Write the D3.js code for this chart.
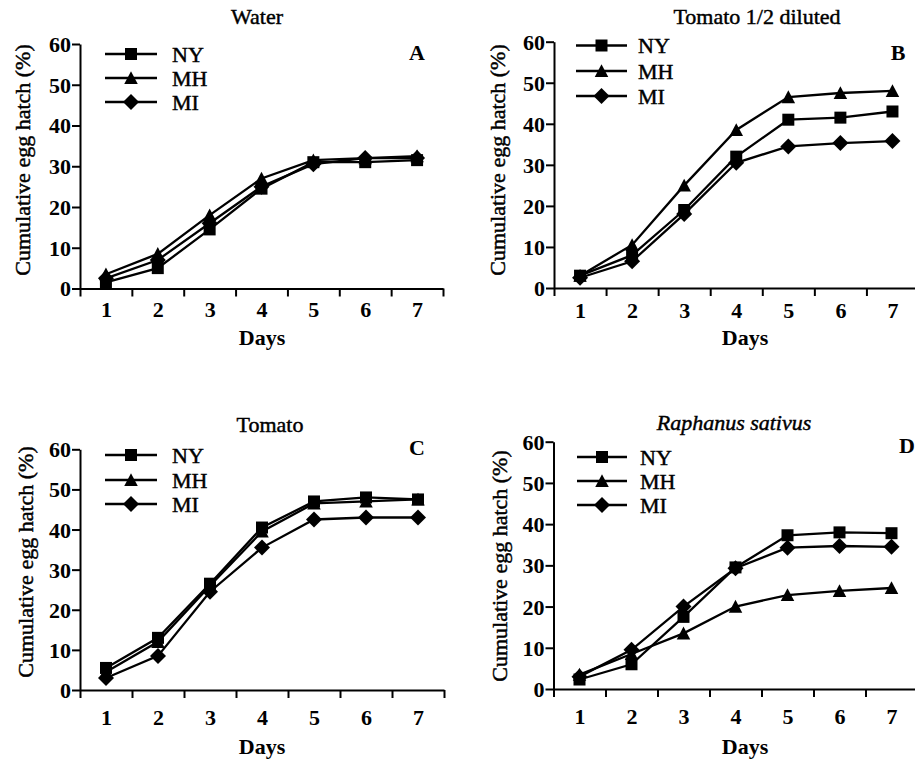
<!DOCTYPE html>
<html>
<head>
<meta charset="utf-8">
<script src="https://cdn.jsdelivr.net/npm/d3@7"></script>
<style>
  html, body { margin: 0; padding: 0; background: #fff; }
  svg { display: block; }
  text { font-family: "Liberation Serif", "Times New Roman", serif; fill: #000; }
  text.heavy { stroke: #000; stroke-width: 0.45px; }
</style>
</head>
<body>
<svg id="chart" width="915" height="759"></svg>
<script>
// ---- data ----
const days = [1, 2, 3, 4, 5, 6, 7];
const seriesNames = ["NY", "MH", "MI"];
const yTicks = [0, 10, 20, 30, 40, 50, 60];
const panelTitles = ["Water", "Tomato 1/2 diluted", "Tomato", "Raphanus sativus"];
const panelLetters = ["A", "B", "C", "D"];
const xAxisTitle = "Days";
const yAxisTitle = "Cumulative egg hatch (%)";

// Panel A: Water
const waterNY = [1.5, 5, 14.5, 24.5, 31, 31, 31.5];
const waterMH = [3.5, 8.5, 18, 27, 31.5, 32, 32.5];
const waterMI = [2.5, 7, 16, 25, 30.5, 32, 32];
// Panel B: Tomato 1/2 diluted
const dilutedNY = [3, 8, 19, 32, 41, 41.5, 43];
const dilutedMH = [3, 10.5, 25, 38.5, 46.5, 47.5, 48];
const dilutedMI = [2.5, 6.5, 18, 30.5, 34.5, 35.3, 35.8];
// Panel C: Tomato
const tomatoNY = [5.5, 13, 26.5, 40.5, 47, 48, 47.5];
const tomatoMH = [4.5, 12, 26, 39.5, 46.5, 47, 47.5];
const tomatoMI = [3, 8.5, 24.5, 35.5, 42.5, 43, 43];
// Panel D: Raphanus sativus
const raphanusNY = [2.3, 6, 17.5, 29.5, 37.3, 38, 37.8];
const raphanusMH = [3.5, 8.5, 13.5, 20, 22.8, 23.8, 24.5];
const raphanusMI = [3, 9.5, 20, 29.3, 34.3, 34.7, 34.5];

const panelData = [
  [waterNY, waterMH, waterMI],
  [dilutedNY, dilutedMH, dilutedMI],
  [tomatoNY, tomatoMH, tomatoMI],
  [raphanusNY, raphanusMH, raphanusMI]
];

// ---- layout (pixel geometry per panel) ----
const layout = [
  { x: [80, 443], y: [288.5, 44], labelDy: 20, daysY: 345, daysX: 262, titleX: 257, titleY: 24,
    yTitleX: 22, yTitleY: 160, letterX: 417, letterY: 60, letterAnchor: "middle",
    legX0: 105, legX1: 157, legTx: 172, legY: [54, 78, 102] },
  { x: [554, 918.5], y: [288, 41.7], labelDy: 21, daysY: 345, daysX: 745, titleX: 757, titleY: 24,
    yTitleX: 497, yTitleY: 160, letterX: 898, letterY: 60, letterAnchor: "middle",
    legX0: 576, legX1: 627, legTx: 638, legY: [45.5, 71, 96] },
  { x: [80, 444], y: [690, 449.3], labelDy: 26, daysY: 754, daysX: 262, titleX: 270, titleY: 432,
    yTitleX: 25, yTitleY: 562, letterX: 417, letterY: 455, letterAnchor: "middle",
    legX0: 105, legX1: 157, legTx: 172, legY: [455, 480, 504] },
  { x: [553.5, 917.5], y: [689, 441.7], labelDy: 26, daysY: 754, daysX: 745, titleX: 734, titleY: 430,
    yTitleX: 499, yTitleY: 566, letterX: 899, letterY: 453, letterAnchor: "start",
    legX0: 577, legX1: 627, legTx: 640, legY: [457, 481, 505] }
];

// ---- symbols ----
const symSquare = { draw(c, s) { const h = s / 2; c.moveTo(-h, -h); c.lineTo(h, -h); c.lineTo(h, h); c.lineTo(-h, h); c.closePath(); } };
const symTriangle = { draw(c, s) { const h = s / 2; c.moveTo(0, -h); c.lineTo(h, h * 0.9); c.lineTo(-h, h * 0.9); c.closePath(); } };
const symDiamond = { draw(c, s) { const h = s / 2; c.moveTo(0, -h); c.lineTo(h, 0); c.lineTo(0, h); c.lineTo(-h, 0); c.closePath(); } };
const symbols = [symSquare, symTriangle, symDiamond];
const symSizes = [12, 13.5, 16];

const svg = d3.select("#chart");
const FS = 22;

panelData.forEach((series, pi) => {
  const L = layout[pi];
  const x = d3.scaleLinear().domain([0.5, 7.5]).range(L.x);
  const y = d3.scaleLinear().domain([0, 60]).range(L.y);
  const g = svg.append("g");
  const axisY = y(0);

  // y axis
  const ya = g.append("g").attr("transform", `translate(${L.x[0]},0)`)
    .call(d3.axisLeft(y).tickValues(yTicks).tickSize(8).tickSizeOuter(0).tickPadding(1)
      .tickFormat(d3.format("d")));
  ya.select(".domain").attr("stroke-width", 2);
  ya.selectAll(".tick line").attr("stroke-width", 2);
  ya.selectAll(".tick text").style("font-size", FS + "px").style("font-weight", "bold")
    .style("font-family", "Liberation Serif").attr("dy", "0.34em");

  // x axis (band boundary ticks)
  const bounds = d3.range(0.5, 8, 1);
  const xa = g.append("g").attr("transform", `translate(0,${axisY})`)
    .call(d3.axisBottom(x).tickValues(bounds).tickSize(8).tickSizeOuter(0).tickFormat(""));
  xa.select(".domain").attr("stroke-width", 2);
  xa.selectAll(".tick line").attr("stroke-width", 2);

  // x labels at day centers
  const xl = g.append("g").attr("transform", `translate(0,${axisY})`)
    .call(d3.axisBottom(x).tickValues(days).tickSize(0).tickPadding(L.labelDy - 7)
      .tickFormat(d3.format("d")));
  xl.select(".domain").remove();
  xl.selectAll(".tick text").style("font-size", FS + "px").style("font-weight", "bold")
    .style("font-family", "Liberation Serif").attr("dy", "0.71em");

  // titles
  g.append("text").attr("x", L.daysX).attr("y", L.daysY).attr("text-anchor", "middle")
    .style("font-size", FS + "px").style("font-weight", "bold").text(xAxisTitle);
  g.append("text").attr("class", "heavy")
    .attr("transform", `translate(${L.yTitleX},${L.yTitleY}) rotate(-90)`)
    .attr("text-anchor", "middle").attr("dy", "0.35em")
    .style("font-size", FS + "px").text(yAxisTitle);
  g.append("text").attr("class", "heavy").attr("x", L.titleX).attr("y", L.titleY).attr("text-anchor", "middle")
    .style("font-size", FS + "px").style("font-style", pi === 3 ? "italic" : "normal")
    .text(panelTitles[pi]);
  g.append("text").attr("x", L.letterX).attr("y", L.letterY).attr("text-anchor", L.letterAnchor)
    .style("font-size", FS + "px").style("font-weight", "bold").text(panelLetters[pi]);

  // series
  const line = d3.line().x((d, i) => x(days[i])).y(d => y(d));
  series.forEach((vals, si) => {
    g.append("path").datum(vals).attr("d", line).attr("fill", "none")
      .attr("stroke", "#000").attr("stroke-width", 2.3);
    g.selectAll(null).data(vals).enter().append("path")
      .attr("transform", (d, i) => `translate(${x(days[i])},${y(d)})`)
      .attr("d", d3.symbol().type(symbols[si]).size(symSizes[si]))
      .attr("fill", "#000");
  });

  // legend
  seriesNames.forEach((name, si) => {
    const ly = L.legY[si];
    g.append("line").attr("x1", L.legX0).attr("x2", L.legX1).attr("y1", ly).attr("y2", ly)
      .attr("stroke", "#000").attr("stroke-width", 2.3);
    g.append("path").attr("transform", `translate(${(L.legX0 + L.legX1) / 2},${ly})`)
      .attr("d", d3.symbol().type(symbols[si]).size(symSizes[si])).attr("fill", "#000");
    g.append("text").attr("class", "heavy").attr("x", L.legTx).attr("y", ly).attr("dy", "0.35em")
      .style("font-size", FS + "px").text(name);
  });
});
</script>
</body>
</html>
